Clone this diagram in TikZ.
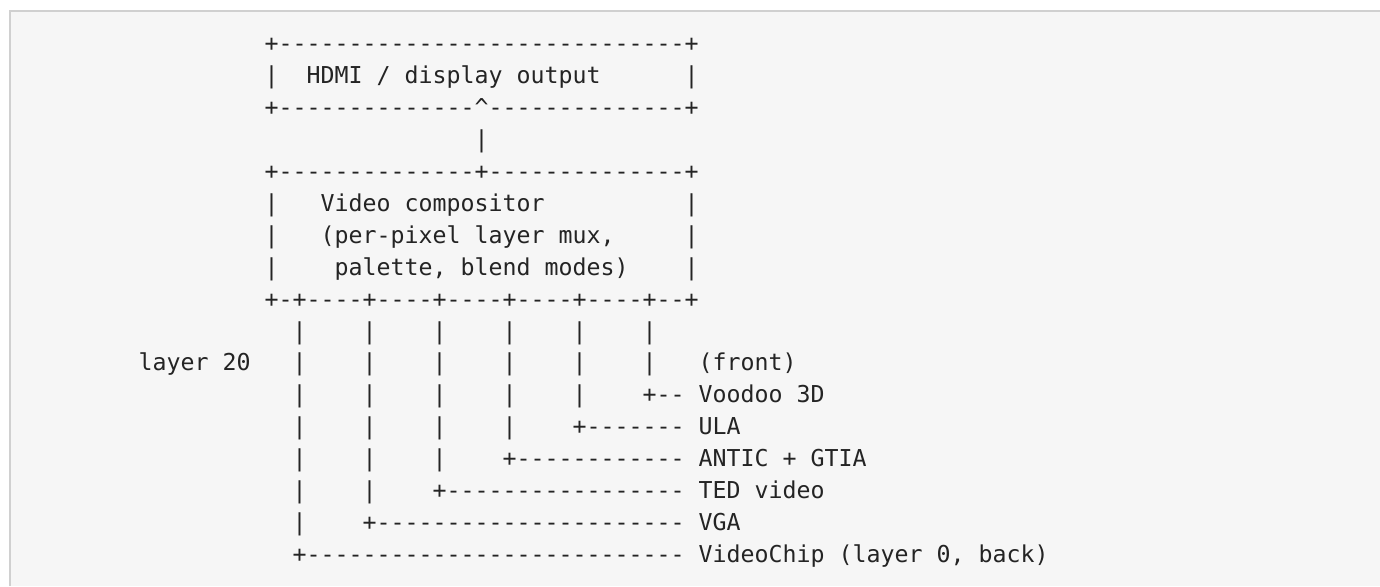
\documentclass[tikz,border=0pt]{standalone}
\usepackage{fontspec}
\setmonofont{DejaVu Sans Mono}
\definecolor{codebg}{HTML}{F6F6F6}
\definecolor{codeborder}{HTML}{D0D0D0}
\definecolor{codetext}{HTML}{242424}
\newcommand\SP[1]{\hspace*{\dimexpr 14pt*#1\relax}}
\newcommand\CX[1]{264.7+14*(#1)}
\newcommand\RY[1]{586-51.5-31.95*(#1)}
\tikzset{
  ln/.style={anchor=base west, inner sep=0pt, outer sep=0pt,
    font=\ttfamily\fontsize{23.25pt}{31.95pt}\selectfont, text=codetext},
}
\begin{document}
\begin{tikzpicture}[x=1pt,y=1pt]
\useasboundingbox (0,0) rectangle (1380,586);
\fill[white] (0,0) rectangle (1380,586);
\fill[codebg] (10,0) rectangle (1380,575);
\draw[codeborder, line width=2pt] (10,0) -- (10,575) -- (1380,575);

\node[ln] (r0)  at ({\CX{0}},{\RY{0}})  {+-----------------------------+};
\node[ln] (r1)  at ({\CX{0}},{\RY{1}})  {|\SP{2}HDMI / display output\SP{6}|};
\node[ln] (r2)  at ({\CX{0}},{\RY{2}})  {+--------------\textasciicircum--------------+};
\node[ln] (r3)  at ({\CX{15}},{\RY{3}}) {|};
\node[ln] (r4)  at ({\CX{0}},{\RY{4}})  {+--------------+--------------+};
\node[ln] (r5)  at ({\CX{0}},{\RY{5}})  {|\SP{3}Video compositor\SP{10}|};
\node[ln] (r6)  at ({\CX{0}},{\RY{6}})  {|\SP{3}(per-pixel layer mux,\SP{5}|};
\node[ln] (r7)  at ({\CX{0}},{\RY{7}})  {|\SP{4}palette, blend modes)\SP{4}|};
\node[ln] (r8)  at ({\CX{0}},{\RY{8}})  {+-+----+----+----+----+----+--+};
\node[ln] (r9)  at ({\CX{2}},{\RY{9}})  {|\SP{4}|\SP{4}|\SP{4}|\SP{4}|\SP{4}|};
\node[ln] (r10) at ({\CX{-9}},{\RY{10}}) {layer 20\SP{3}|\SP{4}|\SP{4}|\SP{4}|\SP{4}|\SP{4}|\SP{3}(front)};
\node[ln] (r11) at ({\CX{2}},{\RY{11}}) {|\SP{4}|\SP{4}|\SP{4}|\SP{4}|\SP{4}+-- Voodoo 3D};
\node[ln] (r12) at ({\CX{2}},{\RY{12}}) {|\SP{4}|\SP{4}|\SP{4}|\SP{4}+------- ULA};
\node[ln] (r13) at ({\CX{2}},{\RY{13}}) {|\SP{4}|\SP{4}|\SP{4}+------------ ANTIC + GTIA};
\node[ln] (r14) at ({\CX{2}},{\RY{14}}) {|\SP{4}|\SP{4}+----------------- TED video};
\node[ln] (r15) at ({\CX{2}},{\RY{15}}) {|\SP{4}+---------------------- VGA};
\node[ln] (r16) at ({\CX{2}},{\RY{16}}) {+--------------------------- VideoChip (layer 0, back)};
\end{tikzpicture}
\end{document}
